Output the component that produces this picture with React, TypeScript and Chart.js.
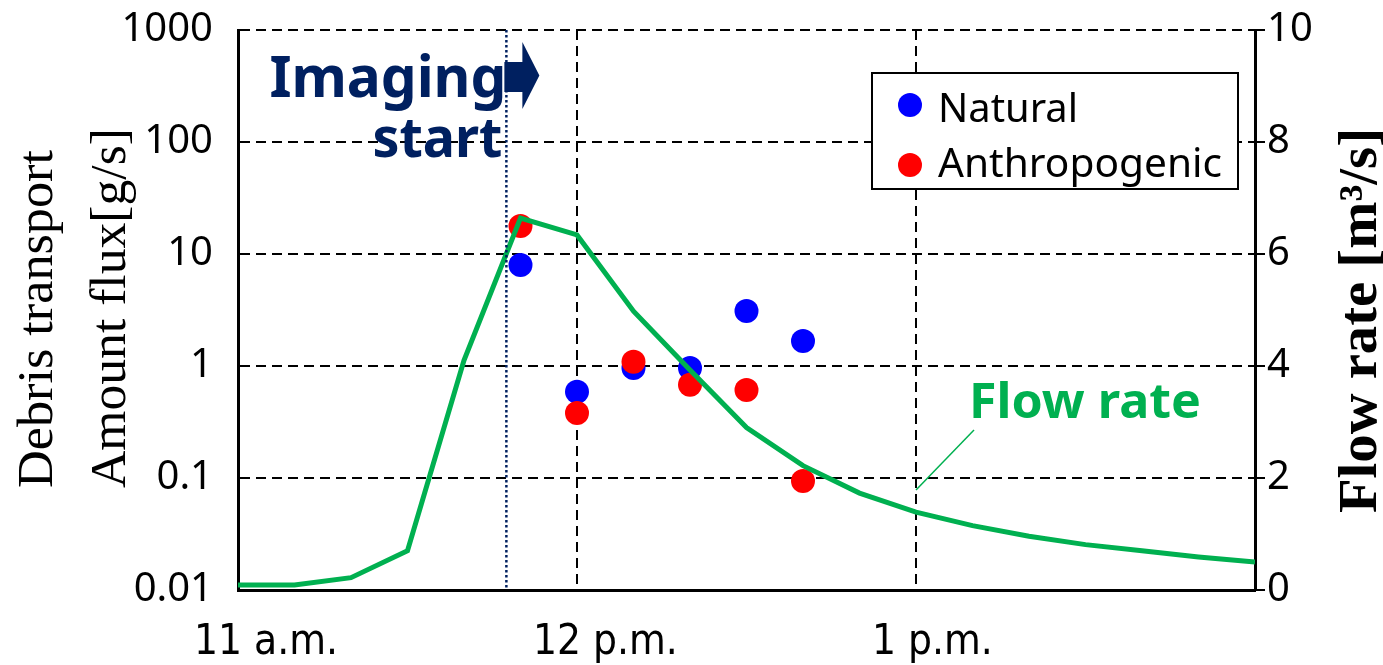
import React, { useEffect, useRef } from 'react';
import { Chart, registerables } from 'chart.js';

Chart.register(...registerables);

// ---- Data (minutes after 11:00 a.m.) ----
const FLOW_TIMES = [0, 10, 20, 30, 40, 50, 60, 70, 80, 90, 100, 110, 120, 130, 140, 150, 160, 170, 180];
const FLOW_RATE = [0.09, 0.09, 0.22, 0.7, 4.1, 6.64, 6.34, 4.98, 3.93, 2.9, 2.22, 1.73, 1.39, 1.15, 0.96, 0.81, 0.7, 0.59, 0.5];

const SAMPLE_TIMES = [50, 60, 70, 80, 90, 100];
const NATURAL = [7.97, 0.59, 0.96, 0.96, 3.1, 1.67];
const ANTHROPOGENIC = [17.8, 0.38, 1.09, 0.68, 0.61, 0.094];

const X_TICKS = [0, 60, 120, 180];
const X_TICK_LABELS = ['11 a.m.', '12 p.m.', '1 p.m.', ''];
const LEFT_TICKS = [0.01, 0.1, 1, 10, 100, 1000];
const LEFT_TICK_LABELS = ['0.01', '0.1', '1', '10', '100', '1000'];
const RIGHT_TICKS = [0, 2, 4, 6, 8, 10];

const IMAGING_START = 47.5;
const FLOW_LABEL_TIME = 120;

const NAVY = '#002060';
const GREEN = '#00B050';
const BLUE = '#0000FF';
const RED = '#FF0000';
const SANS = '"Noto Sans", "Open Sans", sans-serif';
const SERIF = '"Liberation Serif", "DejaVu Serif", serif';
const NARROW = '"Liberation Sans Narrow", "DejaVu Sans Condensed", "Liberation Sans", sans-serif';

function fitText(
  ctx: CanvasRenderingContext2D,
  text: string,
  x: number,
  y: number,
  width: number,
  font: string,
  align: 'left' | 'right' | 'center',
  rotate = 0
) {
  ctx.save();
  ctx.font = font;
  const w = ctx.measureText(text).width;
  const s = width / w;
  ctx.translate(x, y);
  if (rotate) ctx.rotate(rotate);
  ctx.scale(s, 1);
  ctx.textAlign = align;
  ctx.textBaseline = 'alphabetic';
  ctx.fillText(text, 0, 0);
  ctx.restore();
}

const overlayPlugin = {
  id: 'overlay',
  afterDatasetsDraw(chart: any) {
    const { ctx, chartArea, scales } = chart;
    const xs = scales.x.getPixelForValue(IMAGING_START);
    ctx.save();

    // "Imaging start" annotation
    ctx.fillStyle = NAVY;
    fitText(ctx, 'Imaging', xs, 97, 237, `bold 57px ${SANS}`, 'right');
    fitText(ctx, 'start', xs - 4, 157, 130, `bold 56px ${SANS}`, 'right');
    // arrow
    ctx.beginPath();
    ctx.moveTo(xs - 2, 62);
    ctx.lineTo(xs + 16, 62);
    ctx.lineTo(xs + 16, 42);
    ctx.lineTo(xs + 33, 75.5);
    ctx.lineTo(xs + 16, 109);
    ctx.lineTo(xs + 16, 92);
    ctx.lineTo(xs - 2, 92);
    ctx.closePath();
    ctx.fill();
    // dotted vertical line
    ctx.strokeStyle = NAVY;
    ctx.lineWidth = 2.5;
    ctx.setLineDash([2.5, 2.5]);
    ctx.beginPath();
    ctx.moveTo(xs, chartArea.top);
    ctx.lineTo(xs, chartArea.bottom);
    ctx.stroke();
    ctx.setLineDash([]);

    // "Flow rate" label with leader
    const fx = scales.x.getPixelForValue(FLOW_LABEL_TIME);
    ctx.fillStyle = GREEN;
    fitText(ctx, 'Flow rate', fx + 53, 418, 232, `bold 49px ${SANS}`, 'left');
    ctx.strokeStyle = GREEN;
    ctx.lineWidth = 1.5;
    ctx.beginPath();
    ctx.moveTo(fx + 58, 430);
    ctx.lineTo(fx, 490);
    ctx.stroke();

    // Legend
    ctx.fillStyle = '#fff';
    ctx.fillRect(872, 73, 366, 116);
    ctx.strokeStyle = '#000';
    ctx.lineWidth = 2;
    ctx.strokeRect(872, 73, 366, 116);
    const items = [
      { label: chart.data.datasets[1].label, color: BLUE, y: 105, base: 122, w: 140 },
      { label: chart.data.datasets[2].label, color: RED, y: 165, base: 177, w: 284 },
    ];
    items.forEach((it) => {
      ctx.fillStyle = it.color;
      ctx.beginPath();
      ctx.arc(910, it.y, 12, 0, Math.PI * 2);
      ctx.fill();
      ctx.fillStyle = '#000';
      fitText(ctx, it.label, 938, it.base, it.w, `40px ${SANS}`, 'left');
    });

    ctx.restore();
  },
  afterDraw(chart: any) {
    const { ctx } = chart;
    ctx.save();
    ctx.fillStyle = '#000';
    // left axis title (two lines)
    fitText(ctx, 'Debris transport', 52, 488, 338, `50px ${SERIF}`, 'left', -Math.PI / 2);
    fitText(ctx, 'Amount flux[g/s]', 125, 488, 360, `50px ${SERIF}`, 'left', -Math.PI / 2);
    // right axis title
    fitText(ctx, 'Flow rate [m³/s]', 1376, 513, 385, `bold 54px ${SERIF}`, 'left', -Math.PI / 2);
    ctx.restore();
  },
};

export default function App() {
  const canvasRef = useRef<HTMLCanvasElement | null>(null);

  useEffect(() => {
    const canvas = canvasRef.current;
    if (!canvas) return;
    const chart = new Chart(canvas, {
      type: 'scatter',
      data: {
        datasets: [
          {
            type: 'line',
            label: 'Flow rate',
            data: FLOW_TIMES.map((t, i) => ({ x: t, y: FLOW_RATE[i] })),
            yAxisID: 'y2',
            borderColor: GREEN,
            borderWidth: 5,
            pointRadius: 0,
            showLine: true,
            tension: 0,
            fill: false,
            order: 0,
          },
          {
            label: 'Natural',
            data: SAMPLE_TIMES.map((t, i) => ({ x: t, y: NATURAL[i] })),
            yAxisID: 'y',
            backgroundColor: BLUE,
            borderWidth: 0,
            pointRadius: 12,
            order: 2,
          },
          {
            label: 'Anthropogenic',
            data: SAMPLE_TIMES.map((t, i) => ({ x: t, y: ANTHROPOGENIC[i] })),
            yAxisID: 'y',
            backgroundColor: RED,
            borderWidth: 0,
            pointRadius: 12,
            order: 1,
          },
        ],
      } as any,
      options: {
        responsive: false,
        animation: false,
        layout: { padding: { top: 30, left: 0, right: 0, bottom: 0 } },
        plugins: { legend: { display: false }, tooltip: { enabled: false } },
        scales: {
          x: {
            type: 'linear',
            min: 0,
            max: 180,
            afterBuildTicks: (s: any) => {
              s.ticks = X_TICKS.map((v) => ({ value: v }));
            },
            afterFit: (s: any) => {
              s.height = 75;
              s.paddingLeft = 0;
              s.paddingRight = 0;
            },
            ticks: {
              autoSkip: false,
              maxRotation: 0,
              align: 'start',
              labelOffset: -44,
              padding: 28,
              color: '#000',
              font: { family: NARROW, size: 42 },
              callback: (_v: any, i: number) => X_TICK_LABELS[i],
            },
            grid: { color: '#000', lineWidth: 2, drawTicks: false },
            border: { color: '#000', width: 3, dash: [10, 6] },
          },
          y: {
            type: 'logarithmic',
            position: 'left',
            min: 0.01,
            max: 1000,
            afterBuildTicks: (s: any) => {
              s.ticks = LEFT_TICKS.map((v) => ({ value: v }));
            },
            afterFit: (s: any) => {
              s.width = 238;
              s.paddingTop = 0;
              s.paddingBottom = 0;
            },
            ticks: {
              padding: 25,
              color: '#000',
              font: { family: SANS, size: 40 },
              callback: (_v: any, i: number) => LEFT_TICK_LABELS[i],
            },
            grid: { color: '#000', lineWidth: 2, drawTicks: false },
            border: { color: '#000', width: 3, dash: [10, 6] },
          },
          y2: {
            type: 'linear',
            position: 'right',
            min: 0,
            max: 10,
            afterBuildTicks: (s: any) => {
              s.ticks = RIGHT_TICKS.map((v) => ({ value: v }));
            },
            afterFit: (s: any) => {
              s.width = 128;
              s.paddingTop = 0;
              s.paddingBottom = 0;
            },
            ticks: {
              padding: 2,
              color: '#000',
              font: { family: SANS, size: 40 },
              callback: (v: any) => String(v),
            },
            grid: { drawOnChartArea: false, drawTicks: true, tickLength: 10, color: '#000', lineWidth: 2 },
            border: { color: '#000', width: 3 },
          },
        },
      } as any,
      plugins: [overlayPlugin],
    });
    return () => chart.destroy();
  }, []);

  return (
    <div style={{ position: 'absolute', left: 0, top: 0, width: 1383, height: 665, background: '#fff' }}>
      <canvas ref={canvasRef} width={1383} height={665} style={{ display: 'block' }} />
    </div>
  );
}
